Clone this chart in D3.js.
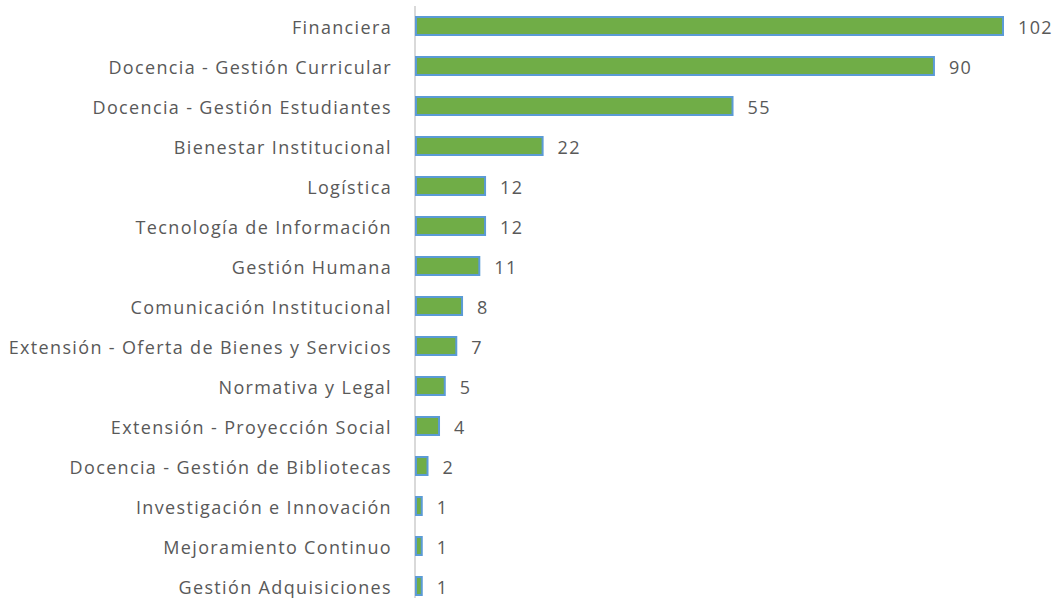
<!DOCTYPE html>
<meta charset="utf-8">
<style>
body { margin: 0; background: #fff; }
text { font-family: "Open Sans", "Noto Sans", sans-serif; fill: #595959; font-size: 18px; letter-spacing: 1.35px; }
</style>
<svg width="1057" height="598"></svg>
<script src="https://d3js.org/d3.v7.min.js"></script>
<script>
var categories = [
  'Financiera',
  'Docencia - Gestión Curricular',
  'Docencia - Gestión Estudiantes',
  'Bienestar Institucional',
  'Logística',
  'Tecnología de Información',
  'Gestión Humana',
  'Comunicación Institucional',
  'Extensión - Oferta de Bienes y Servicios',
  'Normativa y Legal',
  'Extensión - Proyección Social',
  'Docencia - Gestión de Bibliotecas',
  'Investigación e Innovación',
  'Mejoramiento Continuo',
  'Gestión Adquisiciones'
];
var values = [102, 90, 55, 22, 12, 12, 11, 8, 7, 5, 4, 2, 1, 1, 1];

var data = categories.map(function (c, i) { return { name: c, value: values[i] }; });

var svgElem = d3.select('svg');
var x = d3.scaleLinear().domain([0, 102]).range([416, 1003]);
var y = d3.scaleBand().domain(categories).range([6, 606]).paddingInner(0.55).paddingOuter(0.275);

// axis line
svgElem.append('line')
  .attr('x1', 415).attr('x2', 415)
  .attr('y1', 6).attr('y2', 598)
  .attr('stroke', '#d9d9d9')
  .attr('stroke-width', 2);

svgElem.selectAll('.bar')
  .data(data)
  .enter()
  .append('rect')
  .attr('class', 'bar')
  .attr('x', x(0))
  .attr('y', function (d) { return y(d.name); })
  .attr('width', function (d) { return x(d.value) - x(0); })
  .attr('height', y.bandwidth())
  .attr('fill', '#70ad47')
  .attr('stroke', '#5b9bd5')
  .attr('stroke-width', 2);

svgElem.selectAll('.cat')
  .data(data)
  .enter()
  .append('text')
  .attr('class', 'cat')
  .attr('x', 392)
  .attr('y', function (d) { return y(d.name) + y.bandwidth() / 2; })
  .attr('dy', '0.44em')
  .attr('text-anchor', 'end')
  .text(function (d) { return d.name; });

svgElem.selectAll('.val')
  .data(data)
  .enter()
  .append('text')
  .attr('class', 'val')
  .attr('x', function (d) { return x(d.value) + 15; })
  .attr('y', function (d) { return y(d.name) + y.bandwidth() / 2; })
  .attr('dy', '0.44em')
  .text(function (d) { return d.value; });
</script>
